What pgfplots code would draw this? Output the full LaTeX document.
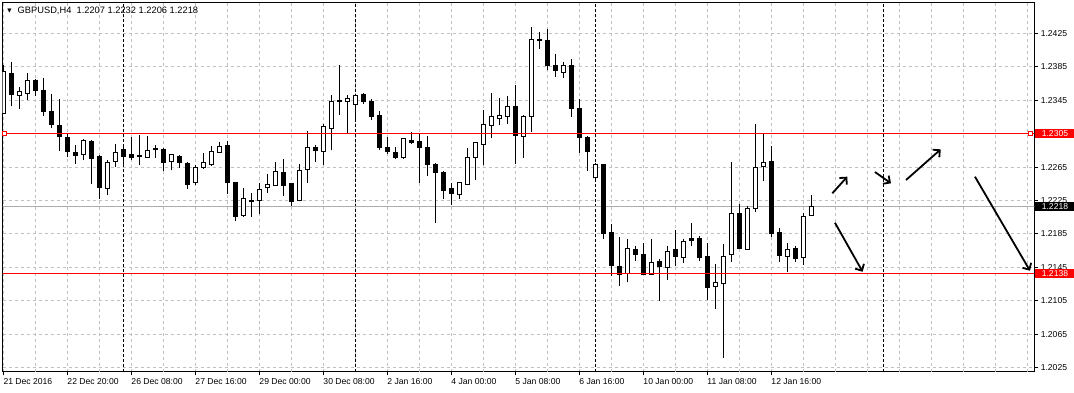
\documentclass[border=0pt]{standalone}
\usepackage{pgfplots}
\pgfplotsset{compat=1.18}
\usepackage{pgfplotstable}
\usepackage{fontspec}
\setmainfont{Liberation Sans}
\newfontfamily\dv{DejaVu Sans}
\usetikzlibrary{arrows.meta}
\definecolor{gridgray}{RGB}{192,192,192}
\definecolor{mtred}{RGB}{255,0,0}

% bullish (white) candles
\pgfplotstableread{
i o h l c
0 1.2329 1.2387 1.2328 1.2379
2 1.2351 1.2361 1.2335 1.2355
3 1.2353 1.2378 1.2345 1.2369
10 1.2280 1.2298 1.2273 1.2297
13 1.2239 1.2274 1.2231 1.2271
14 1.2272 1.2293 1.2265 1.2282
17 1.2278 1.2303 1.2268 1.2279
18 1.2277 1.2302 1.2276 1.2285
19 1.2286 1.2291 1.2276 1.2287
21 1.2272 1.2280 1.2261 1.2280
24 1.2246 1.2268 1.2244 1.2265
25 1.2265 1.2282 1.2263 1.2270
26 1.2268 1.2290 1.2266 1.2284
27 1.2283 1.2295 1.2282 1.2290
30 1.2207 1.2240 1.2205 1.2227
31 1.2224 1.2234 1.2205 1.2225
32 1.2225 1.2246 1.2209 1.2238
33 1.2240 1.2257 1.2234 1.2244
34 1.2243 1.2271 1.2242 1.2260
37 1.2225 1.2269 1.2224 1.2261
38 1.2262 1.2308 1.2246 1.2289
40 1.2284 1.2317 1.2268 1.2313
41 1.2311 1.2351 1.2285 1.2343
43 1.2344 1.2351 1.2306 1.2347
44 1.2340 1.2352 1.2322 1.2351
50 1.2276 1.2300 1.2275 1.2299
57 1.2232 1.2247 1.2227 1.2246
58 1.2244 1.2288 1.2243 1.2277
59 1.2277 1.2295 1.2250 1.2294
60 1.2292 1.2333 1.2267 1.2316
61 1.2315 1.2353 1.2300 1.2325
62 1.2323 1.2348 1.2315 1.2327
63 1.2326 1.2350 1.2317 1.2338
65 1.2302 1.2327 1.2276 1.2326
66 1.2325 1.2432 1.2307 1.2418
70 1.2378 1.2391 1.2372 1.2387
74 1.2252 1.2270 1.2251 1.2268
78 1.2138 1.2179 1.2127 1.2168
81 1.2137 1.2179 1.2136 1.2151
83 1.2145 1.2171 1.2130 1.2164
85 1.2157 1.2179 1.2150 1.2176
89 1.2122 1.2149 1.2095 1.2127
90 1.2126 1.2173 1.2037 1.2158
91 1.2160 1.2271 1.2152 1.2210
93 1.2167 1.2218 1.2166 1.2216
94 1.2215 1.2317 1.2211 1.2265
95 1.2266 1.2305 1.2248 1.2271
98 1.2158 1.2174 1.2139 1.2167
100 1.2157 1.2210 1.2148 1.2206
101 1.2207 1.2232 1.2206 1.2218
}\upc

% bearish (black) candles
\pgfplotstableread{
i o h l c
1 1.2377 1.2391 1.2338 1.2352
4 1.2369 1.2370 1.2350 1.2357
5 1.2356 1.2371 1.2326 1.2332
6 1.2332 1.2352 1.2312 1.2316
7 1.2315 1.2347 1.2284 1.2301
8 1.2300 1.2305 1.2277 1.2284
9 1.2283 1.2291 1.2269 1.2279
11 1.2296 1.2297 1.2245 1.2275
12 1.2278 1.2279 1.2227 1.2241
15 1.2286 1.2290 1.2266 1.2278
16 1.2280 1.2301 1.2274 1.2277
20 1.2286 1.2288 1.2260 1.2270
22 1.2278 1.2280 1.2264 1.2270
23 1.2269 1.2271 1.2239 1.2244
28 1.2291 1.2296 1.2233 1.2246
29 1.2246 1.2247 1.2200 1.2206
35 1.2259 1.2275 1.2230 1.2243
36 1.2245 1.2246 1.2219 1.2224
39 1.2289 1.2291 1.2271 1.2285
42 1.2345 1.2387 1.2327 1.2344
45 1.2352 1.2353 1.2341 1.2343
46 1.2344 1.2347 1.2321 1.2325
47 1.2327 1.2332 1.2285 1.2289
48 1.2288 1.2301 1.2281 1.2284
49 1.2283 1.2289 1.2275 1.2277
51 1.2297 1.2307 1.2293 1.2294
52 1.2295 1.2305 1.2246 1.2289
53 1.2288 1.2302 1.2254 1.2268
54 1.2268 1.2270 1.2198 1.2259
55 1.2259 1.2260 1.2227 1.2237
56 1.2239 1.2246 1.2220 1.2233
64 1.2337 1.2363 1.2269 1.2303
67 1.2418 1.2427 1.2406 1.2416
68 1.2416 1.2430 1.2381 1.2386
69 1.2386 1.2400 1.2373 1.2380
71 1.2386 1.2394 1.2325 1.2335
72 1.2335 1.2347 1.2282 1.2300
73 1.2300 1.2302 1.2260 1.2284
75 1.2268 1.2269 1.2179 1.2185
76 1.2187 1.2197 1.2135 1.2147
77 1.2146 1.2181 1.2123 1.2137
79 1.2167 1.2171 1.2153 1.2160
80 1.2161 1.2174 1.2136 1.2137
82 1.2152 1.2155 1.2105 1.2146
84 1.2166 1.2190 1.2147 1.2158
86 1.2179 1.2198 1.2170 1.2177
87 1.2179 1.2182 1.2153 1.2157
88 1.2158 1.2174 1.2106 1.2121
92 1.2210 1.2221 1.2167 1.2168
96 1.2272 1.2290 1.2181 1.2185
97 1.2187 1.2192 1.2152 1.2159
99 1.2168 1.2170 1.2151 1.2156
}\dnc

\begin{document}
\begin{tikzpicture}[font=\fontsize{8.6}{10}\selectfont]
\path[use as bounding box, fill=white] (0,0) rectangle (1074pt,393pt);
\begin{axis}[
  at={(2.7pt,21pt)}, anchor=south west,
  scale only axis, width=1031.6pt, height=369.3pt,
  xmin=-0.075, xmax=128.875, ymin=1.20199, ymax=1.24616,
  axis line style={line width=1pt, black},
  tick align=outside, major tick length=3.5pt,
  tick style={black, line width=1pt},
  xtick pos=left, ytick pos=right, yticklabel pos=right,
  xtick={0,8,16,24,32,40,48,56,64,72,80,88,96},
  xticklabels={21 Dec 2016,22 Dec 20:00,26 Dec 08:00,27 Dec 16:00,29 Dec 00:00,30 Dec 08:00,2 Jan 16:00,4 Jan 00:00,5 Jan 08:00,6 Jan 16:00,10 Jan 00:00,11 Jan 08:00,12 Jan 16:00},
  ytick={1.2025,1.2065,1.2105,1.2145,1.2185,1.2225,1.2265,1.2305,1.2345,1.2385,1.2425},
  yticklabels={1.2025,1.2065,1.2105,1.2145,1.2185,1.2225,1.2265,1.2305,1.2345,1.2385,1.2425},
  xmajorgrids, ymajorgrids,
  grid style={gridgray, line width=1pt, dash pattern=on 3pt off 3pt},
  extra x ticks={4,12,20,28,36,44,52,60,68,76,84,92,100,104,108,112,116,120,124,128},
  extra x tick labels={},
  extra x tick style={major tick length=0pt, grid=major},
  ticklabel style={font=\fontsize{8.6}{10}\selectfont, text=black},
  xticklabel style={anchor=north west, inner sep=0pt, yshift=-3.2pt},
  yticklabel style={anchor=west, inner sep=0pt, xshift=2.8pt},
  candle/.style={draw=none, mark=none, forget plot,
    error bars/.cd, y dir=plus, y explicit, error mark=none,
    error bar style={#1}},
]
% period separators
\pgfplotsinvokeforeach{15,44,74,110}{
  \addplot[black, line width=1pt, dash pattern=on 3pt off 2pt, forget plot] coordinates {(#1,1.19) (#1,1.25)};
}
% bid line
\addplot[gridgray!90!black, line width=1pt, forget plot] coordinates {(-1,1.2218) (130,1.2218)};

% wicks
\addplot[candle={draw=black, line width=1pt, line cap=butt}]
  table[x=i, y=l, y error plus expr=\thisrow{h}-\thisrow{l}] {\upc};
\addplot[candle={draw=black, line width=1pt, line cap=butt}]
  table[x=i, y=l, y error plus expr=\thisrow{h}-\thisrow{l}] {\dnc};
% bearish bodies
\addplot[candle={draw=black, line width=5pt, line cap=butt}]
  table[x=i, y expr=\thisrow{c}-0.00006, y error plus expr=\thisrow{o}-\thisrow{c}+0.00012] {\dnc};
% bullish bodies
\addplot[candle={draw=black, line width=5pt, line cap=butt}]
  table[x=i, y expr=\thisrow{o}-0.00006, y error plus expr=\thisrow{c}-\thisrow{o}+0.00012] {\upc};
\addplot[candle={draw=white, line width=3pt, line cap=butt}]
  table[x=i, y expr=\thisrow{o}+0.00006, y error plus expr={max(\thisrow{c}-\thisrow{o}-0.00012,0)}] {\upc};

% horizontal levels
\addplot[color=mtred, line width=1pt, forget plot] coordinates {(-1,1.2305) (130,1.2305)};
\addplot[color=mtred, line width=1pt, forget plot] coordinates {(-1,1.2138) (130,1.2138)};
\addplot[color=mtred, only marks, mark=square*, mark size=2pt, mark options={draw=mtred, fill=white, line width=1pt}, forget plot] coordinates {(0.21,1.2305) (128.46,1.2305)};

% arrows
\addplot[black, line width=1.8pt, -{Straight Barb[length=5pt,width=10pt]}, forget plot] coordinates {(103.63,1.22336) (105.5,1.22535)};
\addplot[black, line width=1.8pt, -{Straight Barb[length=5pt,width=10pt]}, forget plot] coordinates {(103.96,1.21984) (107.42,1.21398)};
\addplot[black, line width=1.8pt, -{Straight Barb[length=5pt,width=10pt]}, forget plot] coordinates {(108.96,1.22591) (110.96,1.22456)};
\addplot[black, line width=1.8pt, -{Straight Barb[length=5pt,width=10pt]}, forget plot] coordinates {(112.84,1.22495) (117.18,1.22862)};
\addplot[black, line width=1.8pt, -{Straight Barb[length=5pt,width=10pt]}, forget plot] coordinates {(121.46,1.22535) (128.34,1.2141)};

\coordinate (pA) at (axis cs:128.875,1.2305);
\coordinate (pB) at (axis cs:128.875,1.2138);
\coordinate (pC) at (axis cs:128.875,1.2218);
\coordinate (tl) at (rel axis cs:0,1);
\end{axis}
\node[fill=mtred, text=white, anchor=west, inner sep=0pt, minimum width=39pt, minimum height=9.5pt] at ([xshift=1pt]pA) {1.2305};
\node[fill=mtred, text=white, anchor=west, inner sep=0pt, minimum width=39pt, minimum height=9.5pt] at ([xshift=1pt]pB) {1.2138};
\node[fill=black, text=white, anchor=west, inner sep=0pt, minimum width=39pt, minimum height=9.5pt] at ([xshift=1pt]pC) {1.2218};
\node[anchor=center, inner sep=0pt, font=\dv\fontsize{5.5}{6}\selectfont] at ([xshift=6.8pt,yshift=-8.3pt]tl) {▼};
\node[anchor=west, inner sep=0pt, font=\fontsize{9.3}{10}\selectfont] at ([xshift=14.8pt,yshift=-8.3pt]tl) {GBPUSD,H4\ \ 1.2207 1.2232 1.2206 1.2218};
\end{tikzpicture}
\end{document}
